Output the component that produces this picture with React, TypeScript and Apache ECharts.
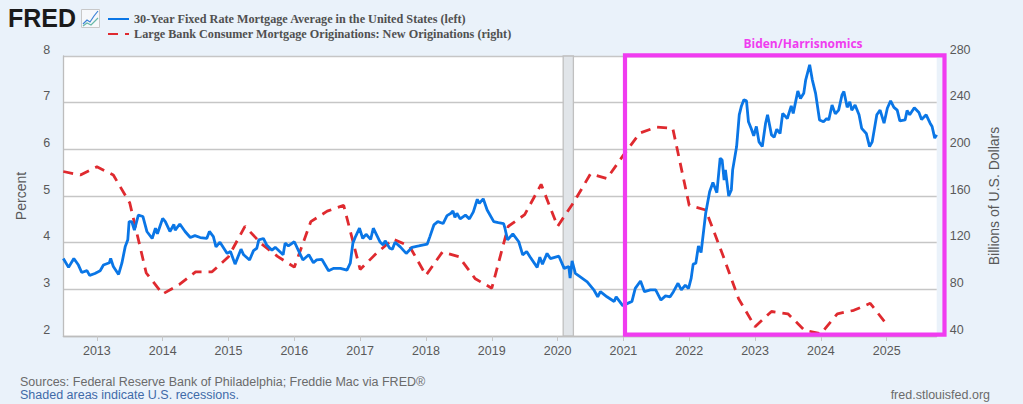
import React, { useEffect, useRef } from "react";
import * as echarts from "echarts";

const mortgageYears = [
  2012.49,2012.57,2012.65,2012.72,2012.77,2012.85,2012.89,2012.97,2013.05,2013.10,2013.19,2013.21,2013.25,2013.33,2013.38,2013.43,2013.47,2013.49,2013.53,2013.57,2013.63,2013.70,2013.76,2013.84,2013.89,2013.92,
  2014.00,2014.04,2014.11,2014.17,2014.19,2014.26,2014.34,2014.42,2014.49,2014.57,2014.67,2014.71,2014.77,2014.81,2014.87,2014.98,
  2015.03,2015.10,2015.19,2015.23,2015.32,2015.38,2015.43,2015.46,2015.53,2015.58,2015.66,2015.71,2015.83,2015.86,2015.91,
  2016.00,2016.06,2016.13,2016.22,2016.29,2016.34,2016.42,2016.52,2016.60,2016.70,2016.80,2016.85,2016.89,2016.93,2016.99,
  2017.04,2017.09,2017.16,2017.20,2017.30,2017.35,2017.38,2017.45,2017.49,2017.53,2017.61,2017.70,2017.79,2017.89,
  2018.02,2018.06,2018.12,2018.18,2018.26,2018.32,2018.38,2018.41,2018.44,2018.47,2018.52,2018.60,2018.66,2018.72,2018.78,2018.81,2018.87,2018.93,
  2019.03,2019.10,2019.18,2019.20,2019.24,2019.32,2019.41,2019.47,2019.53,2019.58,2019.69,2019.73,2019.77,2019.84,2019.89,
  2020.02,2020.10,2020.17,2020.19,2020.22,2020.27,2020.35,2020.45,2020.55,2020.61,2020.65,2020.75,2020.86,2020.89,2020.99,
  2021.08,2021.13,2021.18,2021.26,2021.32,2021.41,2021.49,2021.57,2021.64,2021.71,2021.76,2021.83,2021.88,2021.94,2021.99,
  2022.03,2022.06,2022.10,2022.14,2022.18,2022.22,2022.25,2022.31,2022.36,2022.42,2022.47,2022.50,2022.53,2022.55,2022.60,2022.64,2022.66,2022.72,2022.76,2022.79,2022.83,2022.87,2022.90,2022.94,2022.98,
  2023.02,2023.06,2023.11,2023.16,2023.19,2023.25,2023.29,2023.33,2023.38,2023.42,2023.49,2023.55,2023.58,2023.65,2023.69,2023.74,2023.77,2023.83,2023.87,2023.92,2023.98,
  2024.04,2024.09,2024.12,2024.17,2024.22,2024.27,2024.32,2024.35,2024.40,2024.44,2024.47,2024.52,2024.58,2024.62,2024.69,2024.74,2024.78,2024.85,2024.90,2024.96,
  2025.01,2025.06,2025.11,2025.16,2025.20,2025.28,2025.31,2025.35,2025.42,2025.49,2025.53,2025.60,2025.66,2025.69,2025.73,2025.76,
];
const mortgageRates = [
  3.66,3.47,3.66,3.52,3.36,3.40,3.30,3.34,3.40,3.52,3.57,3.66,3.49,3.32,3.56,3.91,4.06,4.45,4.45,4.27,4.59,4.56,4.24,4.09,4.31,4.19,
  4.52,4.45,4.24,4.39,4.27,4.40,4.24,4.11,4.15,4.11,4.09,4.24,4.13,3.91,4.01,3.77,
  3.81,3.54,3.86,3.74,3.63,3.83,3.88,4.06,4.09,3.95,3.84,3.90,3.74,3.99,3.93,
  4.02,3.84,3.63,3.74,3.57,3.63,3.64,3.40,3.45,3.45,3.41,3.56,3.99,4.13,4.31,
  4.09,4.18,4.07,4.31,4.02,3.95,4.04,3.88,3.86,4.01,3.91,3.77,3.90,3.93,
  3.97,4.13,4.38,4.45,4.41,4.58,4.63,4.68,4.54,4.63,4.51,4.59,4.51,4.66,4.93,4.84,4.94,4.70,
  4.45,4.43,4.41,4.31,4.06,4.19,4.02,3.74,3.81,3.70,3.47,3.69,3.54,3.77,3.66,
  3.71,3.45,3.49,3.24,3.61,3.34,3.26,3.16,2.99,2.84,2.95,2.84,2.74,2.84,2.65,
  2.71,2.74,3.02,3.18,2.95,2.99,2.99,2.77,2.86,2.84,2.95,3.13,2.99,3.09,3.02,
  3.24,3.54,3.56,3.93,3.79,4.27,4.63,5.09,5.29,5.07,5.81,5.77,5.34,5.56,5.00,5.13,5.56,6.06,6.74,6.91,7.06,7.04,6.59,6.45,6.29,
  6.49,6.16,6.06,6.56,6.74,6.31,6.26,6.43,6.34,6.77,6.66,6.93,6.77,7.25,7.09,7.20,7.49,7.81,7.49,7.20,6.63,
  6.59,6.66,6.63,6.95,6.76,6.84,7.16,7.24,6.90,7.02,6.84,6.95,6.74,6.45,6.34,6.06,6.16,6.74,6.84,6.56,
  6.88,7.04,6.90,6.84,6.61,6.63,6.83,6.74,6.89,6.79,6.64,6.74,6.56,6.49,6.24,6.31,
];
const originationQuarters = [
  2012.49,2012.75,2013.0,2013.25,2013.5,2013.75,2014.0,2014.25,2014.5,2014.75,2015.0,2015.25,2015.5,2015.75,
  2016.0,2016.25,2016.5,2016.75,2017.0,2017.25,2017.5,2017.75,2018.0,2018.25,2018.5,2018.75,2019.0,2019.25,2019.5,2019.75,
  2020.0,2020.25,2020.5,2020.75,2021.0,2021.25,2021.5,2021.75,2022.0,2022.25,2022.5,2022.75,2023.0,2023.25,2023.5,2023.75,
  2024.0,2024.25,2024.5,2024.75,2025.0,
];
const originations = [
  181,178,185,178,154,94,76,84,95,95,108,134,119,108,
  99,138,147,152,97,111,123,117,92,112,108,89,81,134,144,170,
  134,155,179,175,195,214,219,218,152,148,111,72,48,61,59,45,
  42,59,62,68,50,
];
const yearTicks = [2013,2014,2015,2016,2017,2018,2019,2020,2021,2022,2023,2024,2025];
const recession = [2020.085, 2020.24];
const mortgageName = "30-Year Fixed Rate Mortgage Average in the United States (left)";
const originationName = "Large Bank Consumer Mortgage Originations: New Originations (right)";

const LABEL = "#595959";
const FONT = "'Liberation Sans', Arial, sans-serif";
const GRIDLINE = "#c6c6c6";
const MAGENTA = "#f03cf0";

export default function App() {
  const ref = useRef<HTMLDivElement>(null);
  useEffect(() => {
    const chart = echarts.init(ref.current!, undefined, { renderer: "svg" });
    chart.setOption({
      animation: false,
      backgroundColor: "#eaf2fa",
      textStyle: { fontFamily: FONT },
      grid: { left: 63.3, right: 86.3, top: 56, bottom: 68, show: true, backgroundColor: "#fff", borderWidth: 0 },
      legend: {
        orient: "vertical", left: 107, top: 13, itemWidth: 21, itemHeight: 12, itemGap: 3, padding: 0,
        selectedMode: false,
        itemStyle: { opacity: 0 },
        textStyle: { fontFamily: "'Liberation Serif', serif", fontWeight: "bold", fontSize: 12.2, color: "#505050" },
        data: [mortgageName, originationName],
      },
      xAxis: {
        type: "value", min: 2012.49, max: 2025.76, splitLine: { show: false },
        axisLine: { show: true, lineStyle: { color: "#bdbdbd", width: 1.3 } },
        axisTick: { show: true, customValues: yearTicks, length: 5, lineStyle: { color: "#c6c6c6" } },
        axisLabel: { customValues: yearTicks, color: LABEL, fontSize: 12.5, margin: 8, formatter: (v: number) => String(v) },
      },
      yAxis: [
        {
          type: "value", min: 2, max: 8, interval: 1, name: "Percent", nameLocation: "middle", nameGap: 35,
          nameTextStyle: { color: LABEL, fontSize: 14 },
          axisLine: { show: true, lineStyle: { color: "#bdbdbd", width: 1.3 } }, axisTick: { show: false },
          axisLabel: { color: LABEL, fontSize: 12.5, margin: 13, verticalAlign: "bottom" },
          splitLine: { show: true, lineStyle: { color: GRIDLINE, width: 1.3 } },
        },
        {
          type: "value", min: 40, max: 280, interval: 40, position: "right", name: "Billions of U.S. Dollars", nameLocation: "middle", nameGap: 50,
          nameTextStyle: { color: LABEL, fontSize: 14 },
          axisLine: { show: false }, axisTick: { show: false },
          axisLabel: { color: LABEL, fontSize: 12.5, margin: 13, verticalAlign: "bottom" },
          splitLine: { show: false },
        },
      ],
      series: [
        {
          name: originationName, type: "line", yAxisIndex: 1, symbol: "none", z: 3,
          lineStyle: { color: "#df2a2f", width: 2.8, type: [10, 7] }, itemStyle: { color: "#df2a2f" },
          data: originationQuarters.map((x, i) => [x, originations[i]]),
        },
        {
          name: mortgageName, type: "line", yAxisIndex: 0, symbol: "none", z: 4,
          lineStyle: { color: "#0a76e6", width: 2.8 }, itemStyle: { color: "#0a76e6" },
          data: mortgageYears.map((x, i) => [x, mortgageRates[i]]),
          markArea: {
            silent: true, z: 1,
            itemStyle: { color: "#e1e5e9", borderColor: "#c0c0c0", borderWidth: 1.3 },
            data: [[{ xAxis: recession[0] }, { xAxis: recession[1] }]],
          },
        },
      ],
      graphic: [
        { type: "text", left: 8, top: 5.5, z: 20, style: { text: "FRED", fill: "#1a1a1a", font: "bold 25px 'Liberation Sans', Arial, sans-serif" } },
        { type: "rect", z: 20, shape: { x: 81.5, y: 9.5, width: 18, height: 18 }, style: { fill: "#f6f8fb", stroke: "#c8c8c8", lineWidth: 1 } },
        { type: "polyline", z: 21, shape: { points: [[83,24],[87,20],[90,22],[94,16],[98,11]] }, style: { stroke: "#3b82d6", fill: "none", lineWidth: 1.2 } },
        { type: "polyline", z: 21, shape: { points: [[83,26],[87,23],[91,25],[95,21],[98,18]] }, style: { stroke: "#68b8a8", fill: "none", lineWidth: 1.2 } },
        { type: "rect", z: 30, silent: true, shape: { x: 625, y: 55.3, width: 319.5, height: 279.4 }, style: { fill: "none", stroke: MAGENTA, lineWidth: 4.2 } },
        { type: "text", z: 30, x: 803, y: 43, style: { text: "Biden/Harrisnomics", fill: MAGENTA, font: "bold 12px 'Open Sans', sans-serif", align: "center", verticalAlign: "middle" } },
        { type: "text", z: 20, x: 20, y: 382, style: { text: "Sources: Federal Reserve Bank of Philadelphia; Freddie Mac via FRED®", fill: "#6b6b6b", font: "12.5px 'Liberation Sans', Arial, sans-serif", verticalAlign: "middle" } },
        { type: "text", z: 20, x: 20, y: 395, style: { text: "Shaded areas indicate U.S. recessions.", fill: "#3f6aa8", font: "12.5px 'Liberation Sans', Arial, sans-serif", verticalAlign: "middle" } },
        { type: "text", z: 20, x: 990, y: 395, style: { text: "fred.stlouisfed.org", fill: "#6b6b6b", font: "12.5px 'Liberation Sans', Arial, sans-serif", align: "right", verticalAlign: "middle" } },
      ],
    });
    return () => chart.dispose();
  }, []);
  return <div ref={ref} style={{ position: "fixed", left: 0, top: 0, width: 1023, height: 404 }} />;
}
